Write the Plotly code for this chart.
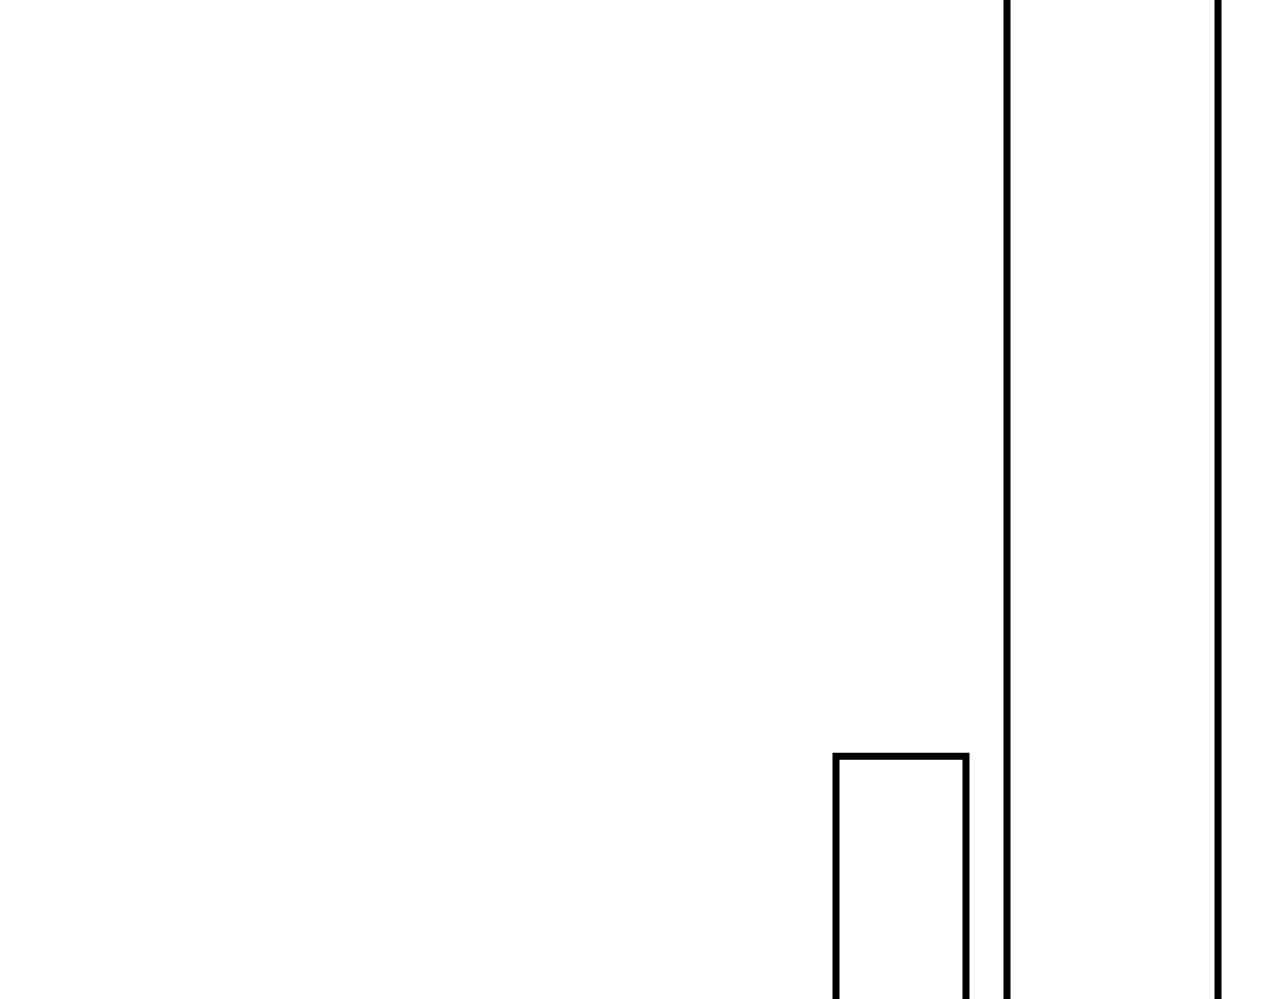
import plotly.graph_objects as go

# Bar data (zoomed-in view of a bar chart)
categories = ["A", "B"]
centers = [9.01, 11.125]
widths = [1.30, 2.11]
values = [3.43, 20.0]

fig = go.Figure(
    go.Bar(
        x=centers,
        y=values,
        width=widths,
        marker=dict(color="white", line=dict(color="black", width=7)),
        hovertext=categories,
    )
)

fig.update_layout(
    width=1280,
    height=999,
    margin=dict(l=0, r=0, t=0, b=0),
    paper_bgcolor="white",
    plot_bgcolor="white",
    showlegend=False,
    xaxis=dict(range=[0, 12.8], visible=False, showgrid=False, zeroline=False),
    yaxis=dict(range=[1, 11], visible=False, showgrid=False, zeroline=False),
)

fig.write_html(
    "out.html",
    config={"displayModeBar": False},
    post_script="document.body.style.margin='0';document.body.style.overflow='hidden';",
)
